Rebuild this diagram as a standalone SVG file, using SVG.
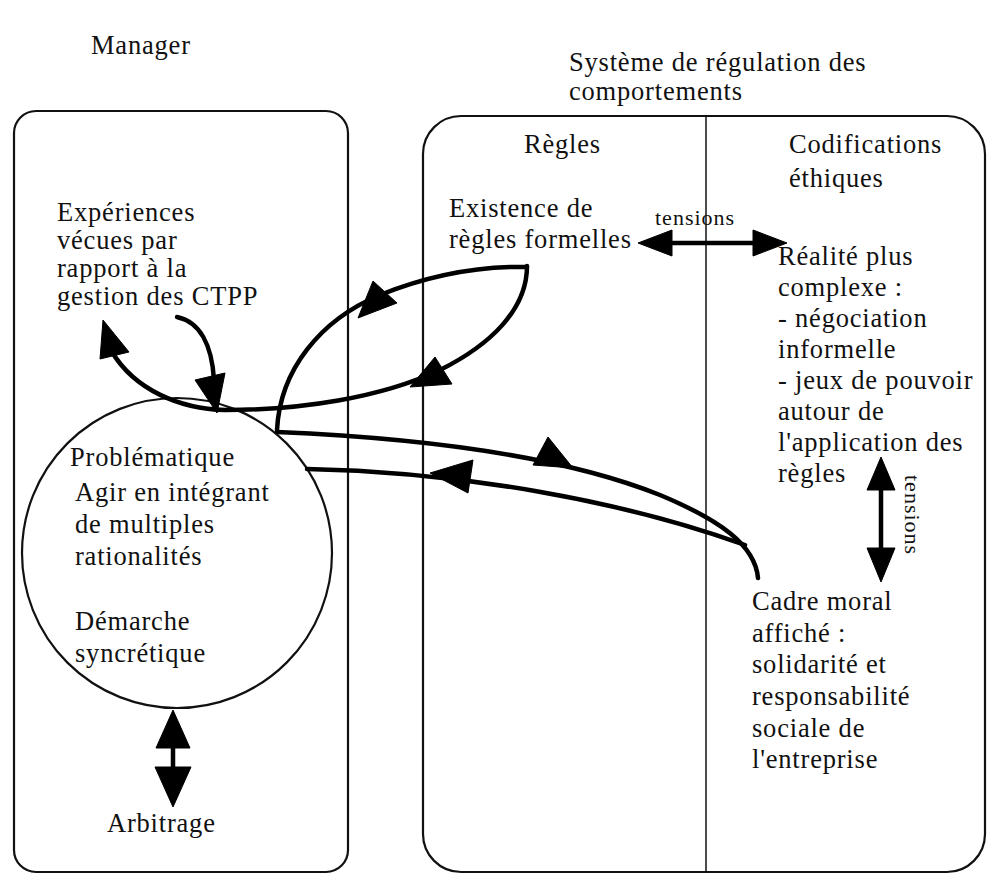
<svg xmlns="http://www.w3.org/2000/svg" width="989" height="875" viewBox="0 0 989 875">
  <style>
    .t { font-family: "Liberation Serif", "DejaVu Serif", serif; font-size: 26.5px; letter-spacing: 0.8px; fill: #111; }
    .small { font-family: "Liberation Serif", "DejaVu Serif", serif; font-size: 22px; letter-spacing: 1px; fill: #111; }
    .frame { fill: none; stroke: #111; stroke-width: 2.2; }
    .thin { fill: none; stroke: #111; stroke-width: 1.5; }
    .link { fill: none; stroke: #000; stroke-width: 4.5; stroke-linecap: round; }
    .head { fill: #000; stroke: #000; stroke-width: 1; stroke-linejoin: round; }
  </style>
  <rect width="989" height="875" fill="#fff"/>

  <!-- headings above the frames -->
  <g id="titles">
    <text class="t" x="91" y="54">Manager</text>
    <text class="t" x="569" y="71">Système de régulation des</text>
    <text class="t" x="569" y="100">comportements</text>
  </g>

  <!-- Manager frame -->
  <g id="manager-frame">
    <rect class="frame" x="14" y="111" width="334" height="761" rx="22"/>
  </g>

  <!-- regulation system frame, split in two columns -->
  <g id="regulation-frame">
    <rect class="frame" x="423" y="116" width="562" height="756" rx="38"/>
    <line class="thin" x1="706" y1="116" x2="706" y2="872"/>
    <text class="t" x="524" y="153">Règles</text>
    <text class="t" x="789" y="153">Codifications</text>
    <text class="t" x="789" y="187">éthiques</text>
  </g>

  <g id="experiences">
    <text class="t" x="57" y="221">Expériences</text>
    <text class="t" x="57" y="249">vécues par</text>
    <text class="t" x="57" y="277">rapport à la</text>
    <text class="t" x="57" y="305">gestion des CTPP</text>
  </g>

  <g id="problematique">
    <circle class="frame" cx="177" cy="553" r="155"/>
    <text class="t" x="70" y="466">Problématique</text>
    <text class="t" x="75" y="501">Agir en intégrant</text>
    <text class="t" x="75" y="533">de multiples</text>
    <text class="t" x="75" y="565">rationalités</text>
    <text class="t" x="75" y="630">Démarche</text>
    <text class="t" x="75" y="662">syncrétique</text>
  </g>

  <g id="arbitrage">
    <text class="t" x="107" y="832">Arbitrage</text>
  </g>

  <g id="regles-formelles">
    <text class="t" x="449" y="217">Existence de</text>
    <text class="t" x="449" y="248">règles formelles</text>
  </g>

  <g id="realite">
    <text class="t" x="778" y="265">Réalité plus</text>
    <text class="t" x="778" y="296">complexe :</text>
    <text class="t" x="778" y="327">- négociation</text>
    <text class="t" x="778" y="358">informelle</text>
    <text class="t" x="778" y="389">- jeux de pouvoir</text>
    <text class="t" x="778" y="420">autour de</text>
    <text class="t" x="778" y="451">l'application des</text>
    <text class="t" x="778" y="482">règles</text>
  </g>

  <g id="cadre-moral">
    <text class="t" x="752" y="610">Cadre moral</text>
    <text class="t" x="752" y="642">affiché :</text>
    <text class="t" x="752" y="673">solidarité et</text>
    <text class="t" x="752" y="705">responsabilité</text>
    <text class="t" x="752" y="737">sociale de</text>
    <text class="t" x="752" y="768">l'entreprise</text>
  </g>

  <!-- connectors -->
  <g id="connectors">
    <!-- rules loop, lower branch running over the circle to the experiences -->
    <path class="link" d="M527,266 C527,310 490,345 440,370 C380,398 300,410 225,410 C180,409 135,390 112,352"/>
    <polygon class="head" points="103,320 129,352 100,359"/>
    <polygon class="head" points="435,357 452,384 410,387"/>
    <!-- rules loop, upper branch -->
    <path class="link" d="M277,430 C280,370 320,320 380,295 C430,275 480,266 527,267"/>
    <polygon class="head" points="373,281 397,303 358,318"/>
    <!-- experiences to problematique -->
    <path class="link" d="M177,317 C200,322 212,345 214,380"/>
    <polygon class="head" points="195,380 225,373 217,413"/>
    <!-- problematique to cadre moral and back -->
    <path class="link" d="M277,432 C420,438 560,455 660,495 C720,520 755,545 758,578"/>
    <polygon class="head" points="548,437 573,468 533,465"/>
    <path class="link" d="M307,469 C460,472 620,500 745,545"/>
    <polygon class="head" points="473,460 468,493 430,473"/>
    <!-- tensions between rules and reality -->
    <line class="link" x1="660" y1="243" x2="765" y2="243" stroke-width="3"/>
    <polygon class="head" points="638,243 672,230 672,256"/>
    <polygon class="head" points="787,243 753,230 753,256"/>
    <text class="small" x="655" y="225">tensions</text>
    <!-- tensions between reality and moral frame -->
    <line class="link" x1="881" y1="480" x2="881" y2="560" stroke-width="3"/>
    <polygon class="head" points="881,457 867,490 895,490"/>
    <polygon class="head" points="881,582 867,548 895,548"/>
    <text class="small" transform="translate(905,475) rotate(90)">tensions</text>
    <!-- problematique to arbitrage -->
    <line class="link" x1="173" y1="730" x2="173" y2="790" stroke-width="6"/>
    <polygon class="head" points="173,710 156,748 190,748"/>
    <polygon class="head" points="173,807 155,767 191,767"/>
  </g>
</svg>
